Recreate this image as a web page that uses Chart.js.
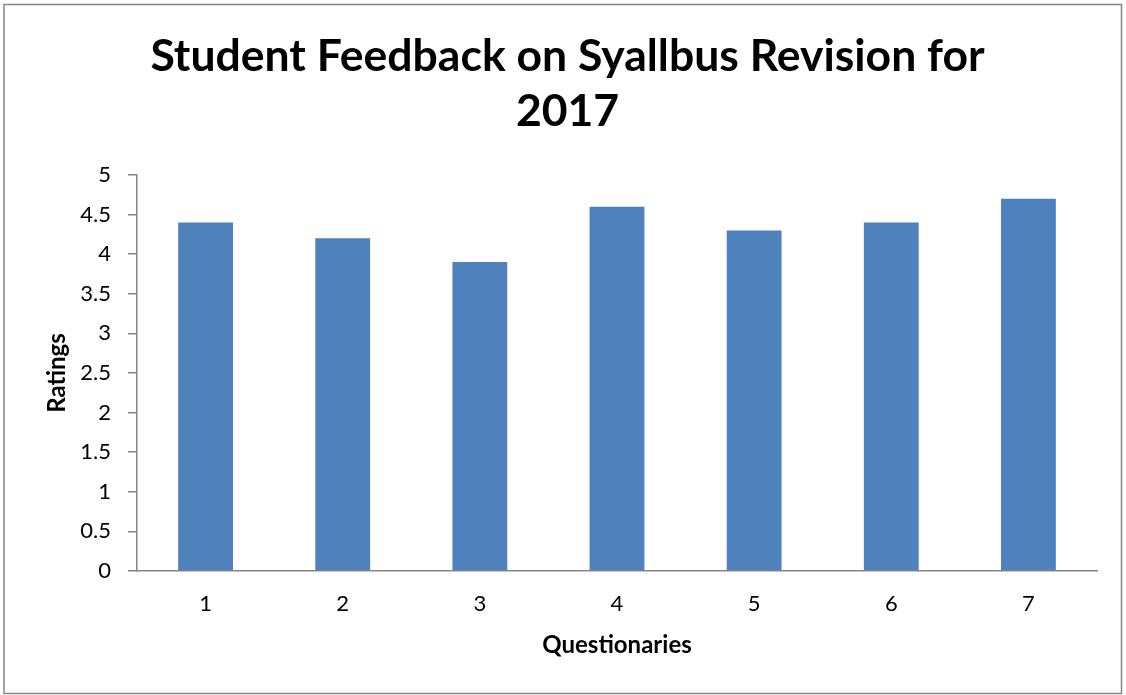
<!DOCTYPE html>
<html>
<head>
<meta charset="utf-8">
<script src="https://cdn.jsdelivr.net/npm/chart.js@4/dist/chart.umd.min.js"></script>
<style>
  html, body { margin: 0; padding: 0; background: #fff; }
  #wrap { width: 1126px; height: 695px; position: relative; }
</style>
</head>
<body>
<div id="wrap"><canvas id="c" width="1126" height="695"></canvas></div>
<script>
const categories = ['1', '2', '3', '4', '5', '6', '7'];
const ratings = [4.4, 4.2, 3.9, 4.6, 4.3, 4.4, 4.7];
const titleLines = ['Student Feedback on Syallbus Revision for', '2017'];
const xTitle = 'Questionaries';
const yTitle = 'Ratings';

const FONT = 'Lato, "Open Sans", sans-serif';
const AXIS = '#868686';

const frame = {
  id: 'frame',
  afterDraw(chart) {
    const ctx = chart.ctx;
    ctx.save();
    ctx.strokeStyle = AXIS;
    ctx.lineWidth = 1.5;
    ctx.strokeRect(4, 4.5, 1117.5, 689);
    ctx.restore();
  }
};

new Chart(document.getElementById('c'), {
  type: 'bar',
  data: {
    labels: categories,
    datasets: [{
      data: ratings,
      backgroundColor: '#4F81BD',
      borderWidth: 0,
      categoryPercentage: 1,
      barPercentage: 0.4
    }]
  },
  options: {
    responsive: false,
    animation: false,
    layout: { padding: { left: 38, right: 29, top: 0, bottom: 30 } },
    plugins: {
      legend: { display: false },
      tooltip: { enabled: false },
      title: {
        display: true,
        text: titleLines,
        color: '#000',
        font: { family: FONT, size: 44.5, weight: 'bold', lineHeight: 1.236 },
        padding: { top: 29.5, bottom: 35.5 }
      }
    },
    scales: {
      x: {
        grid: { display: false, drawTicks: false },
        border: { display: true, color: AXIS, width: 1.5 },
        ticks: { color: '#000', font: { family: FONT, size: 22 }, padding: 20 },
        title: { display: true, text: xTitle, color: '#000', font: { family: FONT, size: 24, weight: 'bold' }, padding: { top: 4, bottom: 5 } },
        afterFit(s) { s.height = 695 - 571 - 30; }
      },
      y: {
        min: 0, max: 5,
        grid: { drawOnChartArea: false, drawTicks: true, tickLength: 9, color: AXIS, lineWidth: 1.5 },
        border: { display: true, color: AXIS, width: 1.5 },
        ticks: { stepSize: 0.5, color: '#000', font: { family: FONT, size: 22 }, padding: 17,
          callback: v => String(v) },
        title: { display: true, text: yTitle, color: '#000', font: { family: FONT, size: 24, weight: 'bold' }, padding: { top: 4.6, bottom: 0 } },
        afterFit(s) { s.width = 99; }
      }
    }
  },
  plugins: [frame]
});
</script>
</body>
</html>
